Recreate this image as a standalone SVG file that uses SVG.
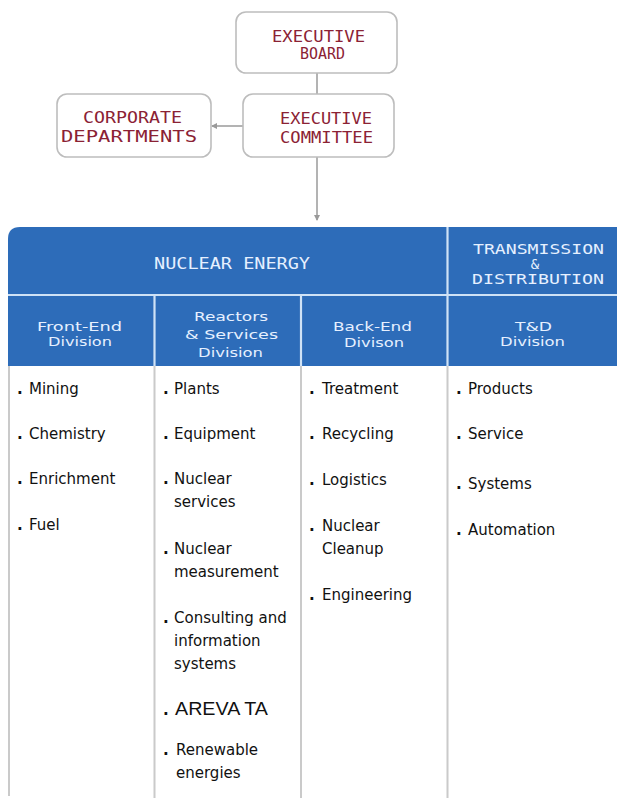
<svg xmlns="http://www.w3.org/2000/svg" width="617" height="798" viewBox="0 0 617 798">
<style>
.box{fill:#fff;stroke:#bdbdbd;stroke-width:1.6}
.top{font-family:"DejaVu Sans Mono","Liberation Mono",monospace;font-size:15px;fill:#8b2234}
.hd{font-family:"DejaVu Sans Mono","Liberation Mono",monospace;font-size:16px;fill:#e6f0ff}
.hs{font-family:"DejaVu Sans Mono","Liberation Mono",monospace;font-size:14px;fill:#e6f0ff}
.dv{font-family:"DejaVu Sans","Noto Sans",sans-serif;font-size:13px;fill:#e6f0ff}
.it{font-family:"DejaVu Sans","Noto Sans",sans-serif;font-size:15px;fill:#111}
.ar{font-family:"Liberation Sans",Arial,sans-serif;font-size:18px;fill:#111}
.b{font-weight:bold}
.sep{stroke:#cfe2f6;stroke-width:2.2}
.col{stroke:#cacaca;stroke-width:2}
.con{stroke:#9a9a9a;stroke-width:1.5;fill:none}
</style>
<defs>
<marker id="ah" markerWidth="6" markerHeight="6" refX="5" refY="3" orient="auto" markerUnits="userSpaceOnUse">
<path d="M0,0 L6,3 L0,6 z" fill="#9a9a9a"/>
</marker>
</defs>

<g id="connectors">
<line class="con" x1="317" y1="73" x2="317" y2="94"/>
<line class="con" x1="243" y1="126" x2="212" y2="126" marker-end="url(#ah)"/>
<line class="con" x1="317" y1="157" x2="317" y2="220" marker-end="url(#ah)"/>
</g>

<g id="executive-board">
<rect class="box" x="236" y="12" width="161" height="61" rx="10"/>
<text class="top" x="272" y="42" textLength="93" lengthAdjust="spacingAndGlyphs">EXECUTIVE</text>
<text class="top" x="300" y="59" textLength="45" lengthAdjust="spacingAndGlyphs">BOARD</text>
</g>

<g id="executive-committee">
<rect class="box" x="243" y="94" width="151" height="63" rx="10"/>
<text class="top" x="280" y="124" textLength="92" lengthAdjust="spacingAndGlyphs">EXECUTIVE</text>
<text class="top" x="280" y="143" textLength="93" lengthAdjust="spacingAndGlyphs">COMMITTEE</text>
</g>

<g id="corporate-departments">
<rect class="box" x="57" y="94" width="154" height="63" rx="10"/>
<text class="top" x="83" y="123" textLength="99" lengthAdjust="spacingAndGlyphs">CORPORATE</text>
<text class="top" x="61" y="142" textLength="136" lengthAdjust="spacingAndGlyphs">DEPARTMENTS</text>
</g>

<g id="table-header">
<path d="M8,239 Q8,227 20,227 L617,227 L617,366 L8,366 Z" fill="#2d6cb9"/>
<line class="sep" x1="8" y1="295" x2="617" y2="295"/>
<line class="sep" x1="447.5" y1="227" x2="447.5" y2="366"/>
<line class="sep" x1="154.5" y1="295" x2="154.5" y2="366"/>
<line class="sep" x1="301" y1="295" x2="301" y2="366"/>
</g>

<g id="nuclear-energy">
<text class="hd" x="154" y="269" textLength="156" lengthAdjust="spacingAndGlyphs">NUCLEAR ENERGY</text>
</g>

<g id="transmission-distribution">
<text class="hs" x="473" y="254" textLength="131" lengthAdjust="spacingAndGlyphs">TRANSMISSION</text>
<text class="hs" x="535" y="269" font-size="10" text-anchor="middle">&amp;</text>
<text class="hs" x="472" y="284" textLength="132" lengthAdjust="spacingAndGlyphs">DISTRIBUTION</text>
</g>

<g id="front-end-division">
<text class="dv" x="37" y="331" textLength="85" lengthAdjust="spacingAndGlyphs">Front-End</text>
<text class="dv" x="48" y="346" textLength="64" lengthAdjust="spacingAndGlyphs">Division</text>
<g id="front-end-items">
<text class="it"><tspan class="b" x="17" y="394">.</tspan><tspan x="29" y="394">Mining</tspan></text>
<text class="it"><tspan class="b" x="17" y="439">.</tspan><tspan x="29" y="439">Chemistry</tspan></text>
<text class="it"><tspan class="b" x="17" y="484">.</tspan><tspan x="29" y="484">Enrichment</tspan></text>
<text class="it"><tspan class="b" x="17" y="530">.</tspan><tspan x="29" y="530">Fuel</tspan></text>
</g>
</g>

<g id="reactors-services-division">
<text class="dv" x="194" y="321" textLength="74" lengthAdjust="spacingAndGlyphs">Reactors</text>
<text class="dv" x="185" y="339" textLength="93" lengthAdjust="spacingAndGlyphs">&amp; Services</text>
<text class="dv" x="198" y="357" textLength="65" lengthAdjust="spacingAndGlyphs">Division</text>
<g id="reactors-items">
<text class="it"><tspan class="b" x="163" y="394">.</tspan><tspan x="174" y="394">Plants</tspan></text>
<text class="it"><tspan class="b" x="163" y="439">.</tspan><tspan x="174" y="439">Equipment</tspan></text>
<text class="it"><tspan class="b" x="163" y="484">.</tspan><tspan x="174" y="484">Nuclear</tspan><tspan x="174" y="507">services</tspan></text>
<text class="it"><tspan class="b" x="163" y="554">.</tspan><tspan x="174" y="554">Nuclear</tspan><tspan x="174" y="577">measurement</tspan></text>
<text class="it"><tspan class="b" x="163" y="623">.</tspan><tspan x="174" y="623">Consulting and</tspan><tspan x="174" y="646">information</tspan><tspan x="174" y="669">systems</tspan></text>
<text class="it"><tspan class="b" x="163" y="715">.</tspan><tspan class="ar" x="175" y="715" textLength="93" lengthAdjust="spacingAndGlyphs">AREVA TA</tspan></text>
<text class="it"><tspan class="b" x="163" y="755">.</tspan><tspan x="176" y="755">Renewable</tspan><tspan x="176" y="778">energies</tspan></text>
</g>
</g>

<g id="back-end-division">
<text class="dv" x="333" y="331" textLength="79" lengthAdjust="spacingAndGlyphs">Back-End</text>
<text class="dv" x="344" y="347" textLength="60" lengthAdjust="spacingAndGlyphs">Divison</text>
<g id="back-end-items">
<text class="it"><tspan class="b" x="309" y="394">.</tspan><tspan x="322" y="394">Treatment</tspan></text>
<text class="it"><tspan class="b" x="309" y="439">.</tspan><tspan x="322" y="439">Recycling</tspan></text>
<text class="it"><tspan class="b" x="309" y="485">.</tspan><tspan x="322" y="485">Logistics</tspan></text>
<text class="it"><tspan class="b" x="309" y="531">.</tspan><tspan x="322" y="531">Nuclear</tspan><tspan x="322" y="554">Cleanup</tspan></text>
<text class="it"><tspan class="b" x="309" y="600">.</tspan><tspan x="322" y="600">Engineering</tspan></text>
</g>
</g>

<g id="td-division">
<text class="dv" x="515" y="331" textLength="37" lengthAdjust="spacingAndGlyphs">T&amp;D</text>
<text class="dv" x="500" y="346" textLength="65" lengthAdjust="spacingAndGlyphs">Division</text>
<g id="td-items">
<text class="it"><tspan class="b" x="456" y="394">.</tspan><tspan x="468" y="394">Products</tspan></text>
<text class="it"><tspan class="b" x="456" y="439">.</tspan><tspan x="468" y="439">Service</tspan></text>
<text class="it"><tspan class="b" x="456" y="489">.</tspan><tspan x="468" y="489">Systems</tspan></text>
<text class="it"><tspan class="b" x="456" y="535">.</tspan><tspan x="468" y="535">Automation</tspan></text>
</g>
</g>

<g id="column-lines">
<line class="col" x1="9" y1="366" x2="9" y2="796"/>
<line class="col" x1="154.5" y1="366" x2="154.5" y2="798"/>
<line class="col" x1="301" y1="366" x2="301" y2="798"/>
<line class="col" x1="447.5" y1="366" x2="447.5" y2="798"/>
</g>
</svg>
